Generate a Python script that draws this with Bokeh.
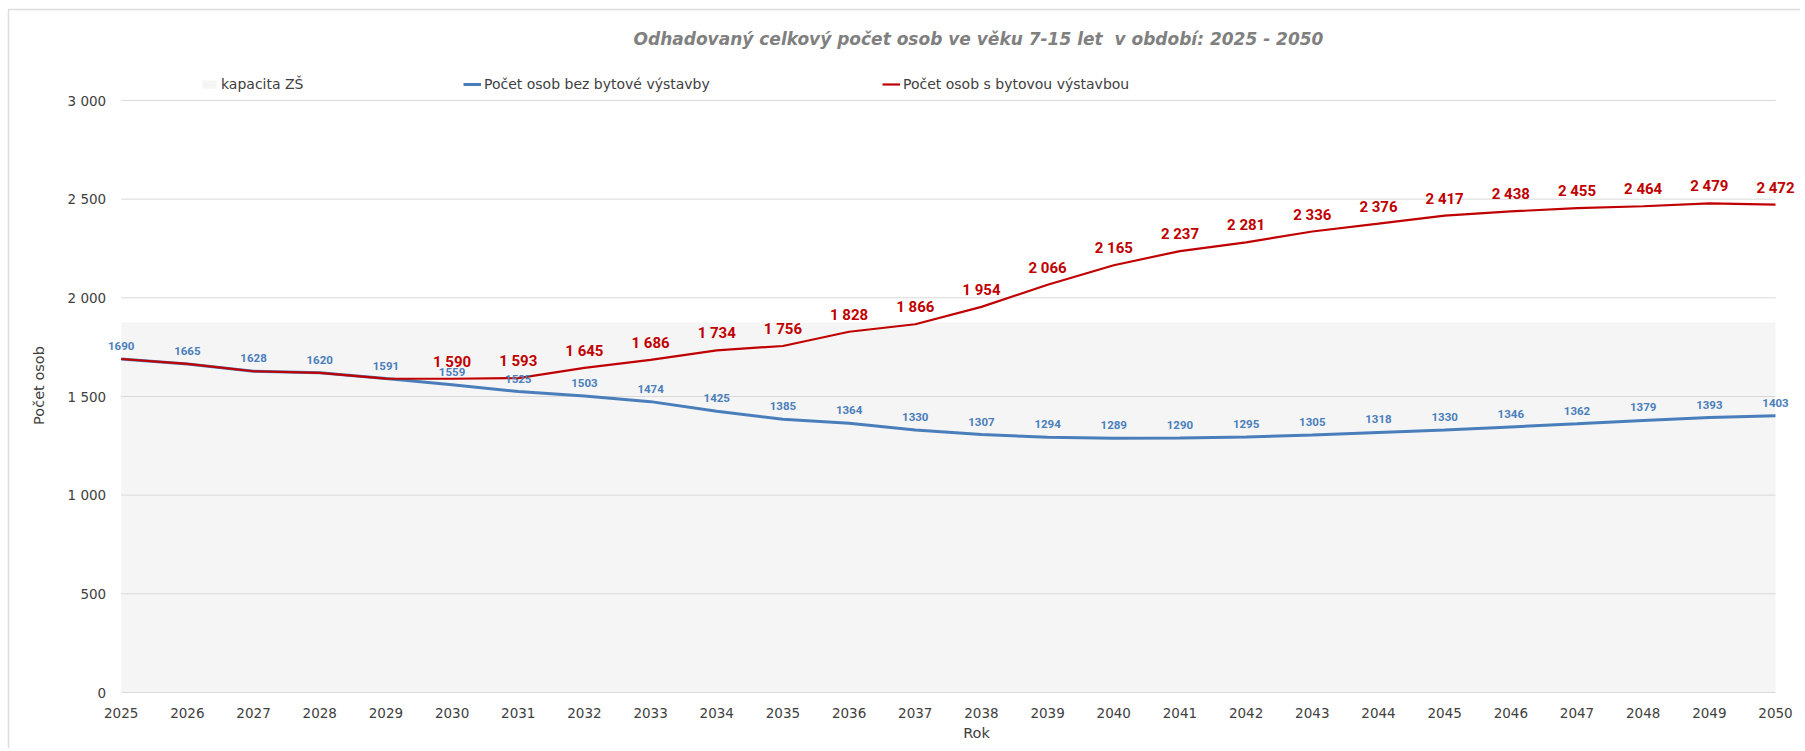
from math import pi
from bokeh.plotting import figure
from bokeh.models import (ColumnDataSource, Range1d, LabelSet, Label,
                          Legend, LegendItem, BoxAnnotation)
from bokeh.embed import file_html
from bokeh.resources import INLINE
from bokeh.core.properties import value

# ---------------- data ----------------
years = [2025, 2026, 2027, 2028, 2029, 2030, 2031, 2032, 2033, 2034, 2035, 2036, 2037,
         2038, 2039, 2040, 2041, 2042, 2043, 2044, 2045, 2046, 2047, 2048, 2049, 2050]
bez_vystavby = [1690, 1665, 1628, 1620, 1591, 1559, 1525, 1503, 1474, 1425, 1385, 1364, 1330,
                1307, 1294, 1289, 1290, 1295, 1305, 1318, 1330, 1346, 1362, 1379, 1393, 1403]
s_vystavbou = [1690, 1665, 1628, 1620, 1591, 1590, 1593, 1645, 1686, 1734, 1756, 1828, 1866,
               1954, 2066, 2165, 2237, 2281, 2336, 2376, 2417, 2438, 2455, 2464, 2479, 2472]
kapacita_zs = [1875, 1875, 1875, 1875, 1875, 1875, 1875, 1875, 1875, 1875, 1875, 1875, 1875,
               1875, 1875, 1875, 1875, 1875, 1875, 1875, 1875, 1875, 1875, 1875, 1875, 1875]
red_label_from_year = 2030
y_ticks = [0, 500, 1000, 1500, 2000, 2500, 3000]
y_tick_labels = ["0", "500", "1 000", "1 500", "2 000", "2 500", "3 000"]

title_text = "Odhadovaný celkový počet osob ve věku 7-15 let \u00a0v období: 2025 - 2050"
legend_labels = ["kapacita ZŠ", "Počet osob bez bytové výstavby", "Počet osob s bytovou výstavbou"]
x_title = "Rok"
y_title = "Počet osob"

BLUE = "#4a7ebb"
RED = "#c00000"
FONT = "DejaVu Sans"

# ---------------- layout (pixels on the canvas) ----------------
W, H = 1800, 748
PX_LEFT, PX_RIGHT = 120.7, 1775.0     # where the first / last year sit
PX_TOP, PX_BOTTOM = 100.0, 692.0      # where the top / bottom y tick sit

def fmt_space(v):
    s = str(int(v))
    if len(s) > 3:
        s = s[:-3] + " " + s[-3:]
    return s

x0, x1 = years[0], years[-1]
y0, y1 = y_ticks[0], y_ticks[-1]
ppx = (PX_RIGHT - PX_LEFT) / (x1 - x0)
ppy = (PX_BOTTOM - PX_TOP) / (y1 - y0)
x_range = Range1d(x0 - PX_LEFT / ppx, x1 + (W - PX_RIGHT) / ppx)
y_range = Range1d(y0 - (H - PX_BOTTOM) / ppy, y1 + PX_TOP / ppy)

src = ColumnDataSource(dict(
    year=years, bez=bez_vystavby, s=s_vystavbou, kap=kapacita_zs,
    zero=[0] * len(years),
    bez_txt=[str(v) for v in bez_vystavby],
    year_txt=[str(y) for y in years],
))
red_idx = [i for i, y in enumerate(years) if y >= red_label_from_year]
src_red = ColumnDataSource(dict(
    year=[years[i] for i in red_idx],
    s=[s_vystavbou[i] for i in red_idx],
    txt=[fmt_space(s_vystavbou[i]) for i in red_idx],
))
src_y = ColumnDataSource(dict(xa=[x0] * len(y_ticks), xb=[x1] * len(y_ticks),
                              y=y_ticks, txt=y_tick_labels))

p = figure(width=W, height=H, output_backend="svg", toolbar_location=None,
           x_range=x_range, y_range=y_range, x_axis_type=None, y_axis_type=None,
           min_border=0)
p.outline_line_color = None
p.background_fill_color = "white"
p.border_fill_color = "white"

area = p.varea(x="year", y1="zero", y2="kap", source=src, fill_color="#f5f5f5", level="image")
# horizontal gridlines across the plot area
p.segment(x0="xa", y0="y", x1="xb", y1="y", source=src_y, line_color="#d9d9d9",
          line_width=1, level="underlay")
blue = p.line(x="year", y="bez", source=src, line_color=BLUE, line_width=3)
red = p.line(x="year", y="s", source=src, line_color=RED, line_width=2.2)

# tick labels
p.text(x="xa", y="y", text="txt", source=src_y, x_offset=-15, text_align="right",
       text_baseline="middle", text_font=value(FONT), text_font_size="13.5px",
       text_color="#404040")
p.text(x="year", y="zero", text="year_txt", source=src, y_offset=20, text_align="center",
       text_baseline="middle", text_font=value(FONT), text_font_size="13.5px",
       text_color="#404040")

# data labels
p.add_layout(LabelSet(x="year", y="bez", text="bez_txt", source=src, text_align="center",
                      text_baseline="middle", y_offset=13, text_font=value("Roboto"),
                      text_font_style="bold", text_font_size="11.5px", text_color=BLUE))
p.add_layout(LabelSet(x="year", y="s", text="txt", source=src_red, text_align="center",
                      text_baseline="middle", y_offset=17, text_font=value("Roboto"),
                      text_font_style="bold", text_font_size="15px", text_color=RED))

# title and axis titles
p.add_layout(Label(x=978, y=H - 38, x_units="screen", y_units="screen", text=title_text,
                   text_align="center", text_baseline="middle", text_font=FONT,
                   text_font_style="bold italic", text_font_size="17px", text_color="#808080"))
p.add_layout(Label(x=976, y=H - 732, x_units="screen", y_units="screen", text=x_title,
                   text_align="center", text_baseline="middle", text_font=FONT,
                   text_font_size="14.5px", text_color="#404040"))
p.add_layout(Label(x=38, y=H - 385, x_units="screen", y_units="screen", text=y_title,
                   angle=pi / 2, text_align="center", text_baseline="middle",
                   text_font=FONT, text_font_size="14.5px", text_color="#404040"))

# legends
for lbl, rnd, xpos in zip(legend_labels, [area, blue, red], [200, 463, 882]):
    leg = Legend(items=[LegendItem(label=lbl, renderers=[rnd])], location=(xpos, H - 83 - 8.5),
                 orientation="horizontal", padding=0, margin=0, spacing=0,
                 glyph_width=18, glyph_height=10, label_height=16, label_standoff=3,
                 border_line_color=None, background_fill_alpha=0,
                 label_text_font=FONT, label_text_font_size="14px",
                 label_text_color="#404040")
    p.add_layout(leg)

# chart border (left and top edges visible)
p.add_layout(BoxAnnotation(left=8, right=W + 50, bottom=-50, top=H - 9,
                           left_units="screen", right_units="screen",
                           bottom_units="screen", top_units="screen",
                           fill_alpha=0, line_color="#909090", line_width=1.5))

open("out.html", "w").write(file_html(p, INLINE))
